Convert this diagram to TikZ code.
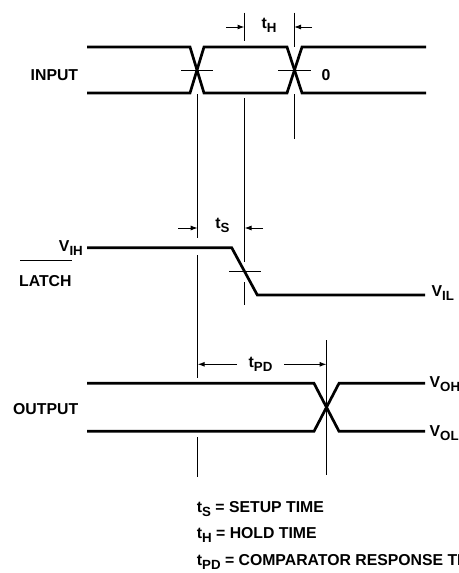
\documentclass[tikz,border=0pt]{standalone}
\usepackage{fontspec}
\setmainfont{Liberation Sans}
\usetikzlibrary{arrows.meta}
\newcommand\sbs[1]{\raisebox{-4.3pt}{\fontsize{13.3}{14}\selectfont #1}}
\begin{document}
\begin{tikzpicture}[x=1pt,y=-1pt,
  wave/.style={line width=2.7pt,line join=miter},
  guide/.style={line width=1pt},
  dimarrow/.style={line width=1pt,-{Latex[length=7pt,width=5pt]}},
  lbl/.style={font=\fontsize{15.8}{17}\selectfont\bfseries,inner sep=0pt},
]
\useasboundingbox (0,0) rectangle (458,573);
\clip (0,0) rectangle (458,573);

% ---------- INPUT ----------
\draw[wave] (87,47)--(190,47)--(204,93)--(287,93)--(302,47)--(426,47);
\draw[wave] (87,93)--(190,93)--(204,47)--(287,47)--(302,93)--(426,93);
\draw[guide] (181,70)--(213,70);
\draw[guide] (278,70)--(311,70);
\node[lbl,anchor=base west] (input) at (30.5,80) {INPUT};
\node[lbl,anchor=base west] (zero) at (321.5,80) {0};

% t_H
\draw[guide] (244.5,12.7)--(244.5,40.7);
\draw[guide] (294,12.7)--(294,46.7);
\coordinate (thl) at (226,27);
\coordinate (thr) at (312,27);
\coordinate (thla) at (244.5,27);
\coordinate (thra) at (294,27);
\draw[dimarrow] (thl)--(thla);
\draw[dimarrow] (thr)--(thra);
\node[lbl,anchor=base] (th) at (269,28) {t\sbs{H}};

% ---------- guide verticals ----------
\draw[guide] (197.7,94)--(197.7,238);
\draw[guide] (197.7,255)--(197.7,378);
\draw[guide] (197.7,437)--(197.7,477);
\draw[guide] (244.5,98)--(244.5,262);
\draw[guide] (244.5,282)--(244.5,305);
\draw[guide] (294,94)--(294,139);
\draw[guide] (326.5,340)--(326.5,475);

% ---------- LATCH ----------
\draw[wave] (87,247.7)--(231.7,247.7)--(257.3,295)--(425,295);
\draw[guide] (229,271.5)--(261,271.5);
\node[lbl,anchor=base east] (vih) at (83,251) {V\sbs{IH}};
\node[lbl,anchor=base west] (latch) at (19,286) {LATCH};
\draw[guide] (20,260.7)--(71.7,260.7);
\node[lbl,anchor=base west] (vil) at (431.5,296.5) {V\sbs{IL}};

% t_S
\coordinate (tsl) at (178,228);
\coordinate (tsr) at (263,228);
\coordinate (tsla) at (197.7,228);
\coordinate (tsra) at (244.5,228);
\draw[dimarrow] (tsl)--(tsla);
\draw[dimarrow] (tsr)--(tsra);
\node[lbl,anchor=base] (ts) at (222.5,228.5) {t\sbs{S}};

% ---------- OUTPUT ----------
\draw[wave] (87,383.3)--(314,383.3)--(339,431.3)--(425,431.3);
\draw[wave] (87,431.3)--(314,431.3)--(339,383.3)--(425,383.3);
\node[lbl,anchor=base west] (output) at (13,414) {OUTPUT};
\node[lbl,anchor=base west] (voh) at (429.5,387.5) {V\sbs{OH}};
\node[lbl,anchor=base west] (vol) at (429.5,436.5) {V\sbs{OL}};

% t_PD
\coordinate (tpl) at (237,364.3);
\coordinate (tpr) at (284,364.3);
\coordinate (tpla) at (197.7,364.3);
\coordinate (tpra) at (326.5,364.3);
\draw[dimarrow] (tpl)--(tpla);
\draw[dimarrow] (tpr)--(tpra);
\node[lbl,anchor=base] (tpd) at (260.5,367) {t\sbs{PD}};

% ---------- legend ----------
\node[lbl,anchor=base west] (l1) at (196.7,512) {t\sbs{S} = SETUP TIME};
\node[lbl,anchor=base west] (l2) at (196.7,538) {t\sbs{H} = HOLD TIME};
\node[lbl,anchor=base west] (l3) at (196.7,565) {t\sbs{PD} = COMPARATOR RESPONSE TIME};
\end{tikzpicture}
\end{document}
